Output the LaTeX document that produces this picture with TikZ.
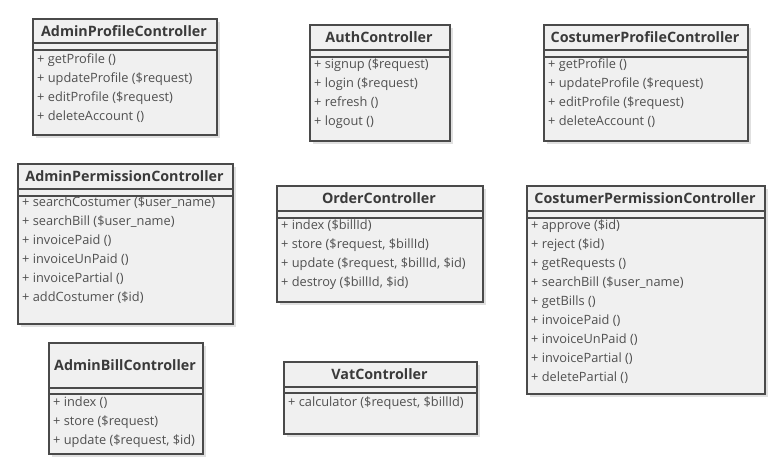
\documentclass[tikz,border=0pt]{standalone}
\usepackage{fontspec}
\setmainfont{Open Sans}
\usetikzlibrary{shadows}
\definecolor{boxfill}{HTML}{F0F0F0}
\definecolor{boxline}{HTML}{4A4A4A}
\definecolor{methtext}{HTML}{505050}
\definecolor{titletext}{HTML}{3A3A3A}
\tikzset{
  cls/.style={draw=boxline, fill=boxfill, line width=1.8pt, anchor=north west, inner sep=0pt,
    drop shadow={shadow xshift=3pt, shadow yshift=-3pt, fill=black, opacity=0.12}},
  ttl/.style={font=\fontsize{14.3}{16}\selectfont\bfseries, text=titletext, inner sep=0pt},
  meth/.style={font=\fontsize{12.8}{14}\selectfont, text=methtext, anchor=west, inner sep=0pt, xshift=2pt},
  sep/.style={draw=boxline, line width=1.8pt}
}
\begin{document}
\begin{tikzpicture}[x=1pt,y=-1pt]
\useasboundingbox (0,0) rectangle (783,473);
% AdminProfileController
\node[cls, minimum width=184pt, minimum height=116pt] (apc) at (32,18) {};
\node[ttl] (apct) at (124,31) {AdminProfileController};
\draw[sep] (32,43) -- (216,43); \draw[sep] (32,50) -- (216,50);
\node[meth] (apc1) at (35,60) {+ getProfile ()};
\node[meth] (apc2) at (35,79) {+ updateProfile (\$request)};
\node[meth] (apc3) at (35,98) {+ editProfile (\$request)};
\node[meth] (apc4) at (35,117) {+ deleteAccount ()};
% AuthController
\node[cls, minimum width=140pt, minimum height=116pt] (ac) at (309,24) {};
\node[ttl] (act) at (379,37) {AuthController};
\draw[sep] (309,50) -- (449,50); \draw[sep] (309,57) -- (449,57);
\node[meth] (ac1) at (312,65) {+ signup (\$request)};
\node[meth] (ac2) at (312,84) {+ login (\$request)};
\node[meth] (ac3) at (312,103) {+ refresh ()};
\node[meth] (ac4) at (312,122) {+ logout ()};
% CostumerProfileController
\node[cls, minimum width=204pt, minimum height=116pt] (cpc) at (543,24) {};
\node[ttl] (cpct) at (645,37) {CostumerProfileController};
\draw[sep] (543,50) -- (747,50); \draw[sep] (543,57) -- (747,57);
\node[meth] (cpc1) at (546,65) {+ getProfile ()};
\node[meth] (cpc2) at (546,84) {+ updateProfile (\$request)};
\node[meth] (cpc3) at (546,103) {+ editProfile (\$request)};
\node[meth] (cpc4) at (546,122) {+ deleteAccount ()};
% AdminPermissionController
\node[cls, minimum width=215pt, minimum height=160pt] (apm) at (17,163) {};
\node[ttl] (apmt) at (124.5,176) {AdminPermissionController};
\draw[sep] (17,189) -- (232,189); \draw[sep] (17,196) -- (232,196);
\node[meth] (apm1) at (20,203) {+ searchCostumer (\$user\_name)};
\node[meth] (apm2) at (20,222) {+ searchBill (\$user\_name)};
\node[meth] (apm3) at (20,241) {+ invoicePaid ()};
\node[meth] (apm4) at (20,260) {+ invoiceUnPaid ()};
\node[meth] (apm5) at (20,279) {+ invoicePartial ()};
\node[meth] (apm6) at (20,298) {+ addCostumer (\$id)};
% OrderController
\node[cls, minimum width=206pt, minimum height=116pt] (oc) at (276,185) {};
\node[ttl] (oct) at (379,198) {OrderController};
\draw[sep] (276,211) -- (482,211); \draw[sep] (276,218) -- (482,218);
\node[meth] (oc1) at (279,226) {+ index (\$billId)};
\node[meth] (oc2) at (279,245) {+ store (\$request, \$billId)};
\node[meth] (oc3) at (279,264) {+ update (\$request, \$billId, \$id)};
\node[meth] (oc4) at (279,283) {+ destroy (\$billId, \$id)};
% CostumerPermissionController
\node[cls, minimum width=238pt, minimum height=208pt] (cpm) at (526,185) {};
\node[ttl] (cpmt) at (645,198) {CostumerPermissionController};
\draw[sep] (526,211) -- (764,211); \draw[sep] (526,218) -- (764,218);
\node[meth] (cpm1) at (529,226) {+ approve (\$id)};
\node[meth] (cpm2) at (529,245) {+ reject (\$id)};
\node[meth] (cpm3) at (529,264) {+ getRequests ()};
\node[meth] (cpm4) at (529,283) {+ searchBill (\$user\_name)};
\node[meth] (cpm5) at (529,302) {+ getBills ()};
\node[meth] (cpm6) at (529,321) {+ invoicePaid ()};
\node[meth] (cpm7) at (529,340) {+ invoiceUnPaid ()};
\node[meth] (cpm8) at (529,359) {+ invoicePartial ()};
\node[meth] (cpm9) at (529,378) {+ deletePartial ()};
% AdminBillController
\node[cls, minimum width=154pt, minimum height=111pt] (abc) at (48,342) {};
\node[ttl] (abct) at (125,365) {AdminBillController};
\draw[sep] (48,388) -- (202,388); \draw[sep] (48,394) -- (202,394);
\node[meth] (abc1) at (51,403) {+ index ()};
\node[meth] (abc2) at (51,422) {+ store (\$request)};
\node[meth] (abc3) at (51,441) {+ update (\$request, \$id)};
% VatController
\node[cls, minimum width=193pt, minimum height=72pt] (vc) at (283,361) {};
\node[ttl] (vct) at (379.5,374) {VatController};
\draw[sep] (283,387) -- (476,387); \draw[sep] (283,393) -- (476,393);
\node[meth] (vc1) at (286,403) {+ calculator (\$request, \$billId)};
\end{tikzpicture}
\end{document}
